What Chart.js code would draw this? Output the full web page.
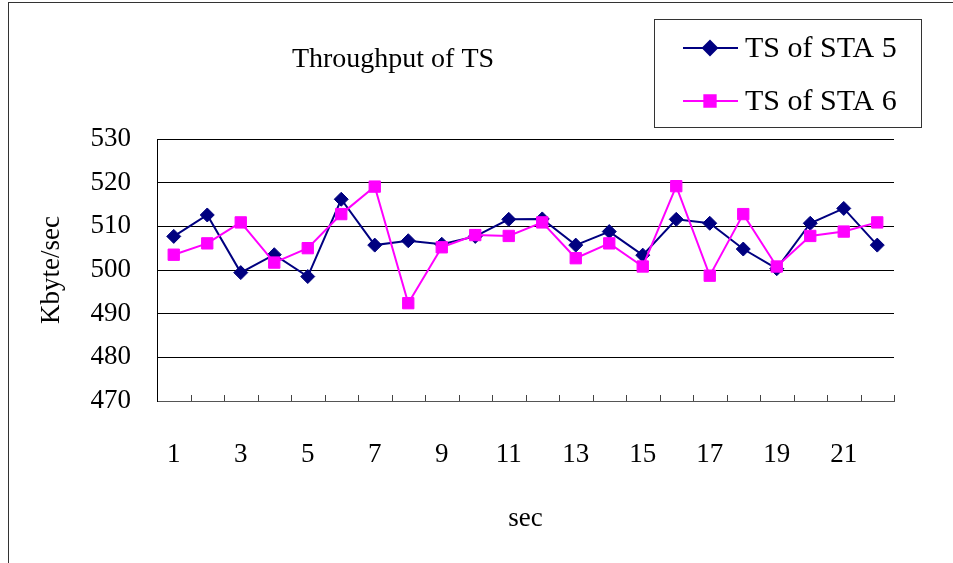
<!DOCTYPE html>
<html>
<head>
<meta charset="utf-8">
<script src="https://cdn.jsdelivr.net/npm/chart.js@4"></script>
<style>
  body { margin: 0; background: #fff; }
  #wrap { position: relative; width: 953px; height: 563px; overflow: hidden; }
  #frame { position: absolute; left: 8px; top: 2px; width: 1000px; height: 700px; border-left: 1px solid #333; border-top: 1px solid #333; }
  canvas { position: absolute; left: 0; top: 0; }
</style>
</head>
<body>
<div id="wrap">
  <div id="frame"></div>
  <canvas id="chart" width="953" height="563"></canvas>
</div>
<script>
const seconds = ['1','2','3','4','5','6','7','8','9','10','11','12','13','14','15','16','17','18','19','20','21','22'];
const sta5 = [507.7, 512.6, 499.4, 503.5, 498.5, 516.2, 505.7, 506.7, 505.9, 507.7, 511.6, 511.7, 505.7, 508.8, 503.4, 511.6, 510.7, 504.8, 500.3, 510.7, 514.1, 505.7];
const sta6 = [503.5, 506.1, 510.9, 501.7, 505.0, 512.8, 519.1, 492.4, 505.2, 508.0, 507.8, 510.9, 502.7, 506.1, 500.8, 519.2, 498.7, 512.8, 500.8, 507.8, 508.8, 510.9];
const yMin = 470, yMax = 530, yStep = 10;

const FONT = '"Liberation Serif", "DejaVu Serif", serif';

// title, legend box and the inward tick marks of the x axis
const extras = {
  id: 'extras',
  afterDraw(chart) {
    const ctx = chart.ctx;
    const x = chart.scales.x;
    ctx.save();
    // x tick marks between categories, pointing up into the plot
    ctx.strokeStyle = '#444';
    ctx.lineWidth = 1;
    const n = seconds.length;
    for (let i = 1; i <= n; i++) {
      const px = Math.round(x.left + i * (x.right - x.left) / n) + 0.5;
      ctx.beginPath();
      ctx.moveTo(px, x.top - 6);
      ctx.lineTo(px, x.top);
      ctx.stroke();
    }
    // title
    ctx.fillStyle = '#000';
    ctx.font = '28px ' + FONT;
    ctx.textAlign = 'center';
    ctx.textBaseline = 'middle';
    ctx.fillText('Throughput of TS', 393, 60);
    // legend
    ctx.strokeStyle = '#333';
    ctx.strokeRect(654.5, 19.5, 267, 108);
    const rows = [
      { label: 'TS of STA 5', color: '#000080', style: 'rectRot', r: 7, y: 48 },
      { label: 'TS of STA 6', color: '#FF00FF', style: 'rect', r: 8, y: 101 }
    ];
    rows.forEach(row => {
      ctx.strokeStyle = row.color;
      ctx.lineWidth = 2;
      ctx.beginPath();
      ctx.moveTo(683, row.y);
      ctx.lineTo(738, row.y);
      ctx.stroke();
      ctx.fillStyle = row.color;
      Chart.helpers.drawPoint(ctx, { pointStyle: row.style, radius: row.r, borderWidth: 1 }, 710, row.y);
      ctx.fill();
      ctx.fillStyle = '#000';
      ctx.font = '30px ' + FONT;
      ctx.textAlign = 'left';
      ctx.fillText(row.label, 745, row.y + 1);
    });
    ctx.restore();
  }
};

new Chart(document.getElementById('chart').getContext('2d'), {
  type: 'line',
  data: {
    labels: seconds,
    datasets: [
      {
        label: 'TS of STA 5',
        data: sta5,
        borderColor: '#000080',
        backgroundColor: '#000080',
        borderWidth: 2,
        pointStyle: 'rectRot',
        pointRadius: 7,
        pointBorderWidth: 1,
        tension: 0,
        order: 1
      },
      {
        label: 'TS of STA 6',
        data: sta6,
        borderColor: '#FF00FF',
        backgroundColor: '#FF00FF',
        borderWidth: 2,
        pointStyle: 'rect',
        pointRadius: 8,
        pointBorderWidth: 1,
        tension: 0,
        order: 0
      }
    ]
  },
  options: {
    responsive: false,
    animation: false,
    devicePixelRatio: 1,
    layout: { padding: { top: 139, right: 59, left: 0, bottom: 0 } },
    plugins: {
      legend: { display: false },
      title: { display: false },
      tooltip: { enabled: false }
    },
    scales: {
      x: {
        offset: true,
        afterFit: s => { s.height = 162; },
        grid: { display: false, drawTicks: false },
        border: { display: true, color: '#555', width: 1 },
        ticks: {
          autoSkip: false,
          maxRotation: 0,
          padding: 38,
          color: '#000',
          font: { family: FONT, size: 27 },
          callback: (v, i) => (i % 2 === 0 ? seconds[i] : '')
        },
        title: {
          display: true,
          text: 'sec',
          color: '#000',
          font: { family: FONT, size: 27 },
          padding: { top: 0, bottom: 28 }
        }
      },
      y: {
        min: yMin,
        max: yMax,
        afterFit: s => { s.width = 157; },
        grid: { color: '#000', lineWidth: 1, drawTicks: false },
        border: { display: true, color: '#000', width: 1 },
        ticks: {
          stepSize: yStep,
          padding: 26,
          color: '#000',
          font: { family: FONT, size: 27 }
        },
        title: {
          display: true,
          text: 'Kbyte/sec',
          color: '#000',
          font: { family: FONT, size: 27 },
          padding: { top: 36, bottom: 0 }
        }
      }
    }
  },
  plugins: [extras]
});
</script>
</body>
</html>
